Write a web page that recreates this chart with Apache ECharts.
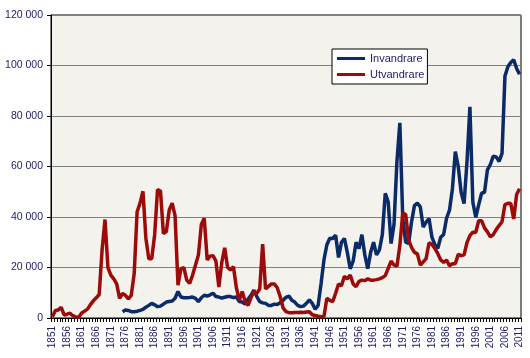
<!DOCTYPE html>
<html>
<head>
<meta charset="utf-8">
<script src="https://cdn.jsdelivr.net/npm/echarts@6/dist/echarts.min.js"></script>
<style>
html,body{margin:0;padding:0;background:#fff;}
#c{width:530px;height:358px;}
</style>
</head>
<body>
<div id="c"></div>
<script>
var firstYear = 1851, lastYear = 2011;
var years = [];
for (var y = firstYear; y <= lastYear; y++) years.push(String(y));

// Utvandrare (emigrants) 1851-2011
var utvandrare = [
  500,3000,3200,4200,1200,1500,1900,900,400,300,
  2000,2700,3500,5300,6800,8000,9300,27000,39000,20000,
  17000,15500,13500,7800,9700,9000,7600,9000,17600,42100,
  45500,50200,31600,23500,23500,32900,50800,50300,33400,34200,
  42800,45500,40500,13000,19500,20000,15000,13700,17000,21000,
  25000,37000,39500,23000,24500,24700,22500,12300,22000,27800,
  20000,19000,20300,12000,7000,10500,6500,5000,8000,10500,
  9800,11500,29300,11500,12500,13500,13500,12000,8500,4000,
  2500,2100,2100,2200,2200,2300,2200,2400,2500,1300,
  1000,700,500,600,7800,7000,6500,9800,13500,12800,
  16500,15500,17000,13500,12400,14500,15000,14800,15500,15000,
  15000,15200,15500,16000,16800,19600,22500,21000,20500,28700,
  41600,41000,30900,28000,26000,25400,21000,22200,23500,29800,
  29100,27600,25500,23000,22000,22900,20700,21500,21500,25200,
  24700,25000,29900,32600,34000,33900,38500,38500,35700,34100,
  32100,33000,35000,36600,38100,44900,45400,45300,39200,48900,
  51200
];

// Invandrare (immigrants), recorded from 1875
var invandrareStart = 1875;
var invandrare = [
  2500,3200,3000,2500,2500,2700,
  3000,3400,4300,5000,5800,5200,4500,4700,5500,6300,
  6500,6700,7800,10500,8300,8000,8000,8100,8300,7800,
  6500,8000,9000,8700,9200,9800,8500,8300,7900,8200,
  8500,8500,8100,8300,6500,6300,5500,7500,9000,11000,
  8500,6500,6000,5800,5000,5000,5500,5300,6000,7000,
  8200,8700,7000,6300,5000,4500,4700,5800,7200,5800,
  3500,5000,13500,23000,29000,31600,31500,32800,24000,30000,
  31500,26000,19500,22500,30000,27500,33000,25000,19500,26000,
  30000,25000,27000,33000,49400,46000,29500,37000,62000,77300,
  39400,30000,29500,38000,44500,45500,44000,36000,38000,39400,
  31900,29100,27600,32000,33100,39500,42700,51100,65900,60000,
  49700,45300,61900,83600,45900,39900,44800,49400,49800,58700,
  60800,64100,63800,62000,65200,95800,99500,101200,102300,98800,
  96500
];

var yTicks = { min: 0, max: 120000, interval: 20000 };

var invData = [];
for (var i = 0; i < years.length; i++) {
  var idx = (firstYear + i) - invandrareStart;
  invData.push(idx >= 0 ? invandrare[idx] : '-');
}

function fmt(v) { return String(v).replace(/\B(?=(\d{3})+(?!\d))/g, ' '); }

var txtColor = '#1c1c66';
var chart = echarts.init(document.getElementById('c'), null, {renderer: 'canvas'});
chart.setOption({
  animation: false,
  backgroundColor: '#ffffff',
  textStyle: { fontFamily: 'Liberation Sans, Arial, sans-serif' },
  grid: {
    left: 51, right: 9, top: 15, bottom: 40,
    show: true, backgroundColor: '#F3F2EC', borderColor: '#000', borderWidth: 1
  },
  legend: {
    orient: 'vertical',
    left: 332, top: 49,
    backgroundColor: '#fff', borderColor: '#000', borderWidth: 1,
    padding: [4, 3, 4, 5],
    itemGap: 5,
    itemWidth: 28, itemHeight: 3,
    icon: 'rect',
    textStyle: { fontSize: 11, color: txtColor, fontFamily: 'Liberation Sans, Arial, sans-serif' },
    data: ['Invandrare', 'Utvandrare']
  },
  xAxis: {
    type: 'category',
    data: years,
    boundaryGap: true,
    axisLine: { lineStyle: { color: '#000', width: 1 } },
    axisTick: { show: true, interval: 0, length: 4, lineStyle: { color: '#000' } },
    axisLabel: { interval: 4, rotate: 90, fontSize: 10, color: txtColor, margin: 8, hideOverlap: false }
  },
  yAxis: {
    type: 'value',
    min: yTicks.min, max: yTicks.max, interval: yTicks.interval,
    axisLine: { show: true, lineStyle: { color: '#000' } },
    axisTick: { show: true, length: 4, lineStyle: { color: '#000' } },
    axisLabel: { fontSize: 10.5, color: txtColor, margin: 8, formatter: fmt },
    splitLine: { lineStyle: { color: '#808080', width: 1 } }
  },
  series: [
    {
      name: 'Invandrare', type: 'line', data: invData,
      symbol: 'none', connectNulls: false,
      lineStyle: { color: '#0A2A68', width: 3.5 }, itemStyle: { color: '#0A2A68' }
    },
    {
      name: 'Utvandrare', type: 'line', data: utvandrare,
      symbol: 'none',
      lineStyle: { color: '#9C0A0A', width: 3.5 }, itemStyle: { color: '#9C0A0A' }
    }
  ]
});
</script>
</body>
</html>
